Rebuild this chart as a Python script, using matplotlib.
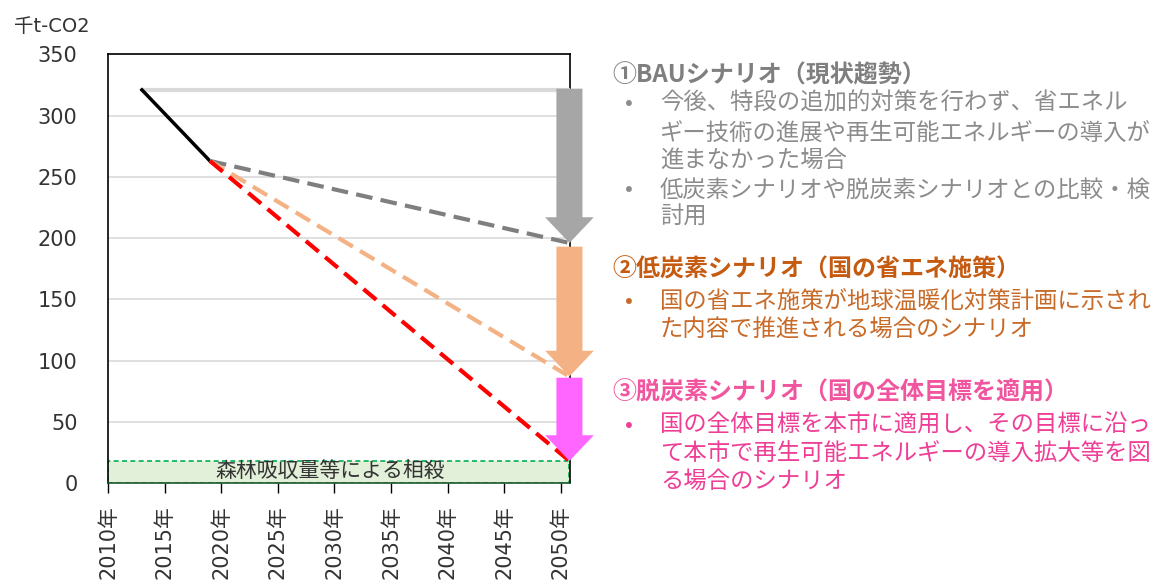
import numpy as np
import matplotlib
matplotlib.use("Agg")
import matplotlib.pyplot as plt
from matplotlib.patches import Rectangle

plt.rcParams['font.family'] = ['Noto Sans CJK JP', 'DejaVu Sans']
num_font = ['DejaVu Sans', 'Noto Sans CJK JP']

# emissions, thousand t-CO2
hist_years = [2013, 2019]
hist_values = [321, 263]
end_pos = 2050.75  # plotting position of the 2050 values (right edge)
bau_2050 = 196
low_carbon_2050 = 87
decarb_2050 = 18
forest_offset = 18

x_ticks = list(range(2010, 2051, 5))
x_labels = [f"{y}年" for y in x_ticks]
y_ticks = list(range(0, 351, 50))

W, H = 1165, 581
fig = plt.figure(figsize=(W / 100, H / 100), dpi=100)
ax = fig.add_axes([108 / W, 1 - 483 / H, (570 - 108) / W, (483 - 54.4) / H])

ax.set_xlim(2010, 2050.8)
ax.set_ylim(0, 350)
ax.set_yticks(y_ticks)
ax.set_xticks(x_ticks)
ax.set_xticklabels(x_labels, rotation=90, fontsize=15, color='#333333', family=num_font)
ax.set_yticklabels([str(v) for v in y_ticks], fontsize=15, color='#333333', family=num_font)
ax.tick_params(axis='y', length=0, pad=22)
ax.tick_params(axis='x', length=7, width=1, direction='out', pad=9)
ax.grid(axis='y', color='#d9d9d9', lw=1.2, zorder=0)
for s in ax.spines.values():
    s.set_color('black')
    s.set_linewidth(1.2)
ax.spines['bottom'].set_color('#1e5631')

# offset band at the bottom
ax.add_patch(Rectangle((2010, 0), end_pos - 2010, forest_offset, facecolor='#e2f0d9',
                       edgecolor='#00b050', ls=(0, (3, 2)), lw=1.2, zorder=2))
ax.text(2029.6, forest_offset / 2 + 1, "森林吸収量等による相殺", ha='center', va='center',
        fontsize=15, color='#333333', zorder=3)

# flat reference level and historical trend
ax.plot([hist_years[0], end_pos], [hist_values[0]] * 2, color='#d9d9d9', lw=3, zorder=3)
ax.plot(hist_years, hist_values, color='black', lw=2.5, zorder=4)

dash = (0, (4, 2))
start_x, start_y = hist_years[-1], hist_values[-1]
ax.plot([start_x, end_pos], [start_y, bau_2050], color='#7f7f7f', lw=3, ls=dash, zorder=4)
ax.plot([start_x, end_pos], [start_y, low_carbon_2050], color='#f4b183', lw=3, ls=dash, zorder=4)
ax.plot([start_x, end_pos], [start_y, decarb_2050], color='#ff0000', lw=3, ls=dash, zorder=4)

# reduction arrows at 2050
arrow_kw = dict(width=2.3, head_width=4.3, head_length=21, length_includes_head=True,
                lw=0, zorder=5, clip_on=False)
ax.arrow(end_pos, hist_values[0] + 1, 0, bau_2050 - hist_values[0] - 1, color='#a6a6a6', **arrow_kw)
ax.arrow(end_pos, bau_2050 - 3, 0, low_carbon_2050 - bau_2050 + 3, color='#f4b183', **arrow_kw)
ax.arrow(end_pos, low_carbon_2050 - 1, 0, decarb_2050 - low_carbon_2050 + 1, color='#ff66ff', **arrow_kw)

fig.text(14 / W, 1 - 26 / H, "千t-CO2", fontsize=14, color='#333333', va='center', ha='left',
         family=num_font)

# scenario notes on the right
gray_t, gray_b = '#7f7f7f', '#8c8c8c'
orange_t, orange_b = '#c55a11', '#c86a28'
pink_t, pink_b = '#f2559f', '#ee3e96'
title_x, bullet_x, body_x = 612, 625, 660


def put(x, y, s, color, bold=False):
    fig.text(x / W, 1 - y / H, s, fontsize=17.3 if bold else 16.8, color=color,
             va='center', ha='left', fontweight='bold' if bold else 'normal')


put(title_x, 75, "①BAUシナリオ（現状趨勢）", gray_t, True)
put(bullet_x, 103, "•", gray_b)
put(body_x, 103, "今後、特段の追加的対策を行わず、省エネル", gray_b)
put(body_x, 133, "ギー技術の進展や再生可能エネルギーの導入が", gray_b)
put(body_x, 160, "進まなかった場合", gray_b)
put(bullet_x, 190, "•", gray_b)
put(body_x, 190, "低炭素シナリオや脱炭素シナリオとの比較・検", gray_b)
put(body_x, 217, "討用", gray_b)

put(title_x, 270, "②低炭素シナリオ（国の省エネ施策）", orange_t, True)
put(bullet_x, 301, "•", orange_b)
put(body_x, 301, "国の省エネ施策が地球温暖化対策計画に示され", orange_b)
put(body_x, 330, "た内容で推進される場合のシナリオ", orange_b)

put(title_x, 393, "③脱炭素シナリオ（国の全体目標を適用）", pink_t, True)
put(bullet_x, 425, "•", pink_b)
put(body_x, 425, "国の全体目標を本市に適用し、その目標に沿っ", pink_b)
put(body_x, 453, "て本市で再生可能エネルギーの導入拡大等を図", pink_b)
put(body_x, 481, "る場合のシナリオ", pink_b)

fig.savefig("out.png", dpi=100)
